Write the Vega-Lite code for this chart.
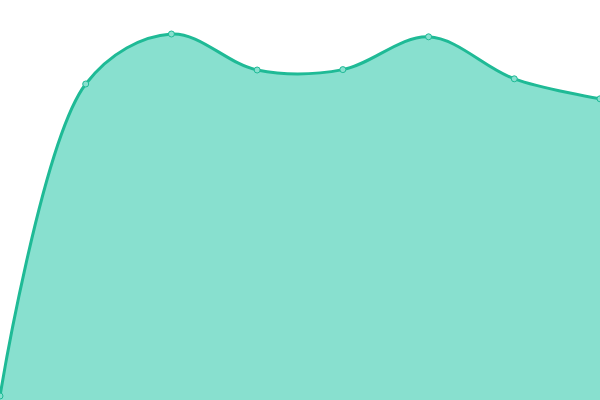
{
  "$schema": "https://vega.github.io/schema/vega-lite/v6.json",
  "width": 600,
  "height": 400,
  "padding": 0,
  "autosize": {"type": "none"},
  "config": {"view": {"stroke": null}},
  "data": {"values": [
    {"x": 0, "y": 1},
    {"x": 1, "y": 79},
    {"x": 2, "y": 91.5},
    {"x": 3, "y": 82.5},
    {"x": 4, "y": 82.6},
    {"x": 5, "y": 90.8},
    {"x": 6, "y": 80.3},
    {"x": 7, "y": 75.3}
  ]},
  "encoding": {
    "x": {"field": "x", "type": "quantitative", "axis": null, "scale": {"domain": [0, 7], "nice": false, "zero": false}},
    "y": {"field": "y", "type": "quantitative", "axis": null, "scale": {"domain": [0, 100], "nice": false}}
  },
  "layer": [
    {"mark": {"type": "area", "interpolate": "catmull-rom", "color": "#88e0cf", "opacity": 1}},
    {"mark": {"type": "line", "interpolate": "catmull-rom", "color": "#1fba96", "strokeWidth": 3}},
    {"mark": {"type": "point", "filled": true, "fill": "#88e0cf", "stroke": "#1fba96", "strokeWidth": 1, "size": 36, "opacity": 1}}
  ]
}
